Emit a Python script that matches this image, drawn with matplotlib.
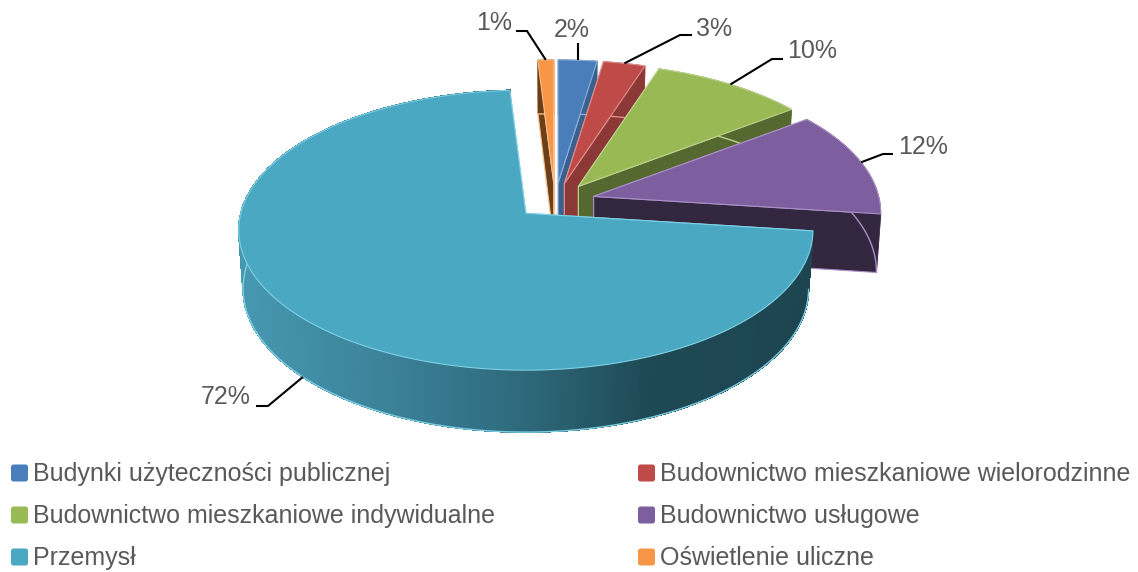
import numpy as np
import matplotlib
matplotlib.use("Agg")
import matplotlib.pyplot as plt
from matplotlib.collections import PolyCollection
from matplotlib.colors import to_rgb
from matplotlib.patches import FancyBboxPatch, Polygon

plt.rcParams['font.family'] = ['Liberation Sans', 'DejaVu Sans']

categories = ["Budynki użyteczności publicznej", "Budownictwo mieszkaniowe wielorodzinne",
              "Budownictwo mieszkaniowe indywidualne", "Budownictwo usługowe",
              "Przemysł", "Oświetlenie uliczne"]
values = [2.45, 2.65, 9.7, 12.2, 72.0, 1.0]      # percent
face_colors = ["#4a7ebb", "#be4b48", "#98b954", "#7d5f9f", "#4aa8c3", "#f79646"]
edge_colors = ["#8fb0d8", "#dc8f8d", "#bcd38c", "#a98fc6", "#7fd0e4", "#fbbf8c"]
wall_colors = ["#38618f", "#8c3836", "#55682f", "#33263f", "#1d4551", "#6b4018"]

# pie geometry, in pixels
CX, CY = 555, 201      # centre before the slices are pulled out
EX, EY = 40, 18        # how far a slice is pulled out
R, A = 285, 138        # disc radius across / along the view
K = 0.12               # perspective
TEXT = "#595959"

# colours of the big front wall, left to right
grad_x = [240, 400, 520, 650, 815]
grad_c = ["#4698b0", "#3a7f96", "#2e6a7c", "#1e4954", "#1d4551"]


def project(theta, mid, r=1.0, z=0.0):
    """theta, mid in radians clockwise from the top; z=0 top face, z=1 bottom"""
    X, Y = np.sin(theta), -np.cos(theta)
    s = 1 / (1 - K * r * Y)
    x = CX + EX * np.sin(mid) + R * r * X * s * (1 - 0.015 * z)
    y = CY - EY * np.cos(mid) + A * r * Y * s + z * (58 + 4 * r * Y)
    return np.column_stack([x, y])


def wall_gradient(x):
    rgb = np.array([to_rgb(c) for c in grad_c])
    return np.column_stack([np.interp(x, grad_x, rgb[:, i]) for i in range(3)])


fig = plt.figure(figsize=(11.38, 5.72), dpi=100)
ax = fig.add_axes([0, 0, 1, 1])
ax.set_xlim(0, 1138)
ax.set_ylim(572, 0)
ax.axis("off")

edges = np.radians(np.cumsum([0] + values) * 3.6)
mids = (edges[:-1] + edges[1:]) / 2

# back slices first, the big one goes on top of the others
order = [5, 0, 1, 2, 3, 4]
for n, i in enumerate(order):
    zo = 2 + n
    t0, t1, mid = edges[i], edges[i + 1], mids[i]
    th = np.linspace(t0, t1, max(int(np.degrees(t1 - t0)) * 2, 6))
    top, bottom = project(th, mid), project(th, mid, z=1)
    apex, apex_b = project(np.array([t0]), mid, r=0), project(np.array([t0]), mid, r=0, z=1)

    # cut walls
    for k in (0, -1):
        ax.add_patch(Polygon([apex[0], top[k], bottom[k], apex_b[0]], closed=True,
                             fc=wall_colors[i], ec=edge_colors[i], lw=0.8, zorder=zo))
    # outer wall
    if i == 4:
        quads = [[top[j], top[j + 1], bottom[j + 1], bottom[j]] for j in range(len(th) - 1)]
        cols = wall_gradient((top[:-1, 0] + top[1:, 0]) / 2)
        ax.add_collection(PolyCollection(quads, facecolors=cols, edgecolors=cols, linewidths=0.6,
                                         antialiaseds=False, zorder=zo + 0.1))
    else:
        ax.add_patch(Polygon(np.vstack([top, bottom[::-1]]), closed=True,
                             fc=wall_colors[i], ec=wall_colors[i], lw=0.5, zorder=zo + 0.1))
    ax.plot(bottom[:, 0], bottom[:, 1], color=edge_colors[i], lw=1.0, zorder=zo + 0.2)
    # top face
    ax.add_patch(Polygon(np.vstack([apex, top]), closed=True, fc=face_colors[i],
                         ec=edge_colors[i], lw=0.8, joinstyle="round", zorder=zo + 0.3))

# data labels with leader lines
label_xy = [(572, 30), (714, 29), (812, 51), (923, 147), (226, 397), (494, 23)]
elbow = [None, [(692, 35), (680, 35)], [(783, 59), (772, 59)], [(893, 154), (883, 154)],
         [(256, 406), (268, 406)], [(516, 31), (527, 31)]]
for i in range(len(values)):
    ax.text(label_xy[i][0], label_xy[i][1], f"{values[i]:.0f}%", fontsize=18, color=TEXT,
            ha="center", va="center", zorder=20)
    tip = project(np.array([mids[i]]), mids[i], z=1 if i == 4 else 0)[0]
    pts = elbow[i] if elbow[i] else [(tip[0], 43)]
    pts = pts + [tuple(tip)]
    ax.plot([p[0] for p in pts], [p[1] for p in pts], color="black", lw=1.5, zorder=19,
            solid_capstyle="butt")

# legend
legend_x = [11, 638]
legend_y = [474, 516, 558]
for i, name in enumerate(categories):
    lx, ly = legend_x[i % 2], legend_y[i // 2]
    ax.add_patch(FancyBboxPatch((lx + 2, ly - 7.5), 13, 13, boxstyle="round,pad=2,rounding_size=2.5",
                                fc=face_colors[i], ec="none"))
    ax.text(lx + 22, ly, name, fontsize=18, color=TEXT, ha="left", va="center")

fig.savefig("out.png", dpi=100)
